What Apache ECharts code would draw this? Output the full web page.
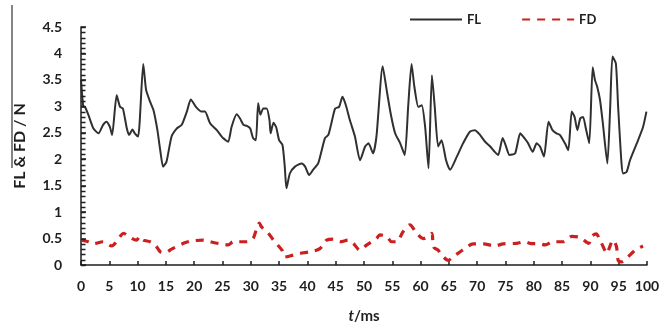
<!DOCTYPE html>
<html>
<head>
<meta charset="utf-8">
<script src="https://cdn.jsdelivr.net/npm/echarts@6/dist/echarts.min.js"></script>
<style>html,body{margin:0;padding:0;background:#fff}#c{width:664px;height:336px}</style>
</head>
<body>
<div id="c"></div>
<script>
// Time (ms) and values (N)
const flTime = [0,0.4,0.7,1.3,2.2,3.1,3.9,4.5,5.1,5.5,6.3,6.9,7.4,8.1,8.5,9.1,9.5,10.1,11.0,11.5,12.2,12.8,13.5,14.0,14.5,15.1,16.0,16.9,17.8,18.7,19.4,20.3,21.3,21.9,22.8,24.0,25.1,26.0,26.6,27.5,28.1,28.7,29.3,29.9,30.4,30.9,31.3,31.7,32.2,32.8,33.3,33.5,34.0,34.5,35.0,35.6,36.0,36.3,36.9,37.8,39.0,39.6,40.3,41.0,41.9,43.1,43.7,44.3,44.9,45.6,46.2,46.8,47.5,48.4,49.3,50.2,50.8,51.6,52.2,53.3,54.0,54.7,55.5,56.4,57.2,57.8,58.4,58.9,59.6,60.2,60.8,61.4,62.0,62.5,63.1,63.7,64.5,65.2,66.4,67.5,68.7,69.6,70.5,71.4,72.3,73.1,73.7,74.5,75.1,75.7,76.7,77.6,78.1,79.0,79.8,80.5,81.1,81.8,82.6,83.3,84.0,84.6,85.5,86.1,86.7,87.2,87.7,88.2,88.7,89.2,89.8,90.4,90.8,91.2,91.7,92.2,93.0,93.5,93.9,94.5,94.9,95.5,95.8,96.4,97.0,98.2,99.3,99.9];
const flValues = [3.5,3.0,2.99,2.84,2.58,2.49,2.65,2.71,2.61,2.46,3.21,2.99,2.96,2.58,2.46,2.56,2.49,2.43,3.80,3.31,3.09,2.93,2.55,2.17,1.86,1.95,2.43,2.58,2.65,2.90,3.13,2.99,2.90,2.90,2.68,2.55,2.40,2.33,2.61,2.85,2.77,2.65,2.63,2.58,2.40,2.36,3.06,2.84,2.96,2.96,2.74,2.49,2.69,2.60,2.36,2.27,1.86,1.45,1.73,1.86,1.92,1.86,1.70,1.80,1.92,2.40,2.46,2.71,2.96,2.99,3.18,3.02,2.74,2.43,1.98,2.24,2.30,2.11,2.43,3.76,3.31,2.87,2.49,2.30,2.08,2.99,3.80,3.37,2.99,3.02,2.61,1.83,3.59,2.99,2.24,2.36,1.98,1.80,2.05,2.30,2.52,2.55,2.46,2.33,2.24,2.14,2.08,2.40,2.24,2.08,2.11,2.49,2.43,2.30,2.14,2.30,2.24,2.05,2.71,2.55,2.49,2.46,2.30,2.17,2.90,2.80,2.55,2.77,2.80,2.58,2.30,3.74,3.50,3.37,3.12,2.68,1.92,2.99,3.94,3.81,2.99,1.92,1.73,1.76,1.98,2.30,2.61,2.90];
const fdTime = [0,1.3,2.2,3.9,5.4,6.9,7.5,8.4,9.8,10.4,11.0,12.2,13.1,14.0,14.8,16.0,18.1,19.3,21.6,22.8,24.6,26.0,26.9,29.3,30.4,31.1,31.5,31.9,33.1,34.0,35.5,36.0,36.9,38.7,40.5,42.2,43.4,44.6,45.8,47.2,48.1,49.3,50.5,52.2,52.8,54.0,54.9,55.8,56.9,58.1,59.3,60.5,61.5,62.0,62.3,63.1,63.7,64.9,65.8,67.0,67.8,69.3,71.1,73.1,74.6,77.0,78.4,79.3,81.1,82.0,83.4,85.2,86.7,88.2,89.7,90.2,91.0,91.7,93.0,93.3,94.0,94.6,94.9,95.5,96.4,97.9,99.3];
const fdValues = [0.47,0.44,0.40,0.44,0.36,0.54,0.60,0.54,0.47,0.54,0.47,0.44,0.38,0.25,0.23,0.30,0.41,0.45,0.47,0.44,0.40,0.38,0.44,0.44,0.50,0.72,0.79,0.72,0.60,0.47,0.28,0.15,0.17,0.22,0.25,0.31,0.47,0.49,0.44,0.47,0.41,0.28,0.38,0.50,0.57,0.54,0.44,0.44,0.63,0.76,0.60,0.50,0.56,0.60,0.34,0.28,0.19,0.09,0.16,0.25,0.31,0.40,0.40,0.36,0.40,0.41,0.44,0.41,0.40,0.38,0.44,0.44,0.54,0.52,0.41,0.54,0.59,0.47,0.22,0.31,0.47,0.35,0.09,0.06,0.13,0.28,0.36];
const seriesNames = ['FL','FD'];
const yMinorTicks = [0,0.1,0.2,0.3,0.4,0.5,0.6,0.7,0.8,0.9,1,1.1,1.2,1.3,1.4,1.5,1.6,1.7,1.8,1.9,2,2.1,2.2,2.3,2.4,2.5,2.6,2.7,2.8,2.9,3,3.1,3.2,3.3,3.4,3.5,3.6,3.7,3.8,3.9,4,4.1,4.2,4.3,4.4,4.5];

const pairs = (xs, ys) => xs.map((x, i) => [x, ys[i]]);
const font = 'Lato';
const ink = '#1e1e1e';
const chart = echarts.init(document.getElementById('c'));
chart.setOption({
  animation: false,
  backgroundColor: '#fff',
  grid: { left: 81, right: 17, top: 27, bottom: 71, containLabel: false },
  legend: {
    show: true, left: 404, top: 8, itemWidth: 52, itemHeight: 12, itemGap: 40,
    itemStyle: { opacity: 0, borderWidth: 0 },
    textStyle: { fontFamily: font, fontWeight: 'bold', fontSize: 13, color: ink },
    data: seriesNames
  },
  graphic: [{ type: 'line', shape: { x1: 12, y1: 5, x2: 12, y2: 168 }, style: { stroke: '#333', lineWidth: 1.2 } }],
  xAxis: {
    type: 'value', min: 0, max: 100, interval: 5,
    name: '{i|t}/ms', nameLocation: 'middle', nameGap: 44,
    nameTextStyle: { fontFamily: font, fontWeight: 'bold', fontSize: 15, color: ink,
      rich: { i: { fontStyle: 'italic', fontFamily: font, fontWeight: 'bold', fontSize: 15, color: ink } } },
    axisLine: { show: true, lineStyle: { color: ink, width: 1.5 } },
    axisTick: { show: true, inside: true, length: 4, lineStyle: { color: ink, width: 1.5 } },
    axisLabel: { margin: 14, fontFamily: font, fontWeight: 'bold', fontSize: 14, color: ink },
    splitLine: { show: false }
  },
  yAxis: {
    type: 'value', min: 0, max: 4.5, interval: 0.5,
    name: 'FL & FD / N', nameLocation: 'middle', nameGap: 53, nameRotate: 90,
    nameTextStyle: { fontFamily: font, fontWeight: 'bold', fontSize: 16, color: ink },
    axisLine: { show: true, lineStyle: { color: ink, width: 1.5 } },
    axisTick: { show: true, inside: true, length: 5, lineStyle: { color: ink, width: 1.5 } },
    axisLabel: { margin: 19, fontFamily: font, fontWeight: 'bold', fontSize: 14, color: ink,
      formatter: v => String(v) },
    splitLine: { show: false }
  },
  series: [
    { name: seriesNames[0], type: 'line', data: pairs(flTime, flValues), symbol: 'none', smooth: 0.2,
      lineStyle: { color: '#303030', width: 2 }, itemStyle: { color: '#303030' } },
    { name: seriesNames[1], type: 'line', data: pairs(fdTime, fdValues), symbol: 'none', smooth: 0.3,
      lineStyle: { color: '#cc2020', width: 3.2, type: [8, 7] }, itemStyle: { color: '#cc2020' } },
    { name: 'yticks', type: 'custom', silent: true, clip: false, z: 5,
      data: yMinorTicks.map(v => [0, v]),
      renderItem: (params, api) => {
        const p = api.coord([api.value(0), api.value(1)]);
        const py = Math.round(p[1]) + 0.5;
        return { type: 'line', shape: { x1: p[0], y1: py, x2: p[0] + 4.5, y2: py },
          style: { stroke: ink, lineWidth: 1.5 } };
      } }
  ]
});
</script>
</body>
</html>
